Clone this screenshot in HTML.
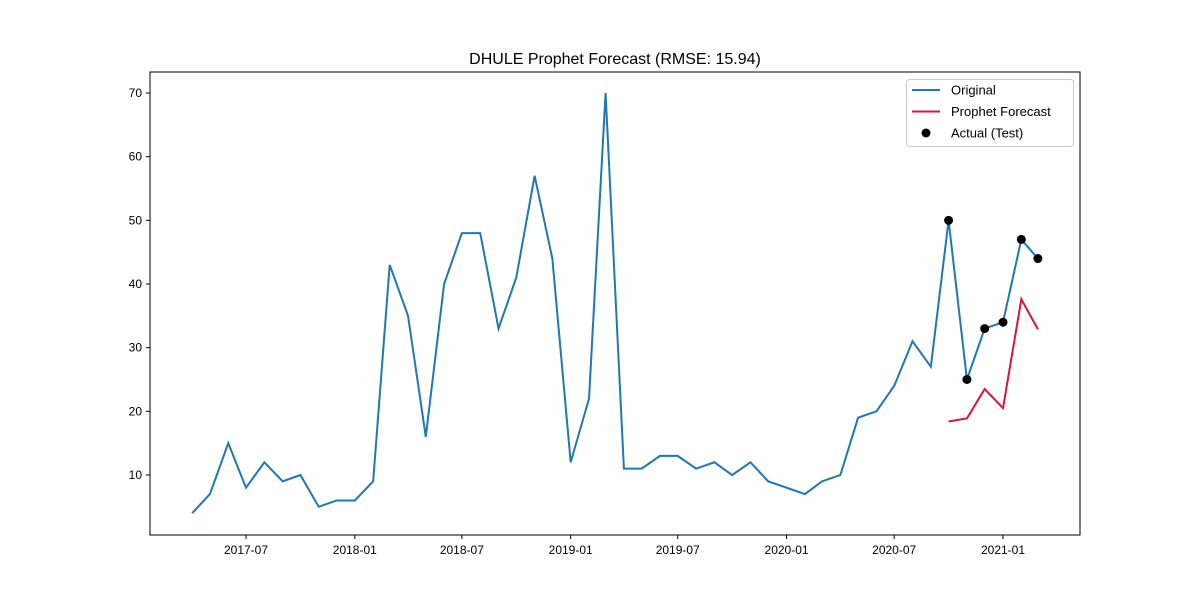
<!DOCTYPE html>
<html><head><meta charset="utf-8"><style>
body{margin:0;background:#fff;font-family:"Liberation Sans","DejaVu Sans",sans-serif}
</style></head><body>
<svg id="chart" width="1200" height="600" xmlns="http://www.w3.org/2000/svg"></svg>
<script>
const dates = ["2017-04","2017-05","2017-06","2017-07","2017-08","2017-09","2017-10","2017-11","2017-12","2018-01","2018-02","2018-03","2018-04","2018-05","2018-06","2018-07","2018-08","2018-09","2018-10","2018-11","2018-12","2019-01","2019-02","2019-03","2019-04","2019-05","2019-06","2019-07","2019-08","2019-09","2019-10","2019-11","2019-12","2020-01","2020-02","2020-03","2020-04","2020-05","2020-06","2020-07","2020-08","2020-09","2020-10","2020-11","2020-12","2021-01","2021-02","2021-03"];
const original = [4,7,15,8,12,9,10,5,6,6,9,43,35,16,40,48,48,33,41,57,44,12,22,70,11,11,13,13,11,12,10,12,9,8,7,9,10,19,20,24,31,27,50,25,33,34,47,44];
const testDates = ["2020-10","2020-11","2020-12","2021-01","2021-02","2021-03"];
const forecast = [18.4,18.9,23.5,20.5,37.6,32.9];
const actual = [50,25,33,34,47,44];
const xTicks = ["2017-07","2018-01","2018-07","2019-01","2019-07","2020-01","2020-07","2021-01"];
const yTicks = [10,20,30,40,50,60,70];

const svg = document.getElementById('chart');
const NS = "http://www.w3.org/2000/svg";
const L=150,R=1080,T=72,B=535;
const day = s => Date.UTC(+s.slice(0,4), +s.slice(5,7)-1, 1)/86400000;
const d0 = day("2017-07"), d1 = day("2021-01");
const x = s => 246 + (day(s)-d0)*(1003-246)/(d1-d0);
const y = v => 475 - (v-10)*(475-93)/60;
function el(tag, attrs, parent){const e=document.createElementNS(NS,tag);for(const k in attrs)e.setAttribute(k,attrs[k]);(parent||svg).appendChild(e);return e;}

let t=el('text',{x:615,y:64,'text-anchor':'middle','font-size':16,fill:'#000'});


t.textContent="DHULE Prophet Forecast (RMSE: 15.94)";

yTicks.forEach(v=>{
  const ln=el('line',{x1:L-4,x2:L,y1:y(v),y2:y(v),stroke:'#000'});
  
  
  const tx=el('text',{x:L-8,y:y(v)+4,'text-anchor':'end','font-size':12});
  
  
  tx.textContent=v;
});
xTicks.forEach(s=>{
  const ln=el('line',{x1:x(s),x2:x(s),y1:B,y2:B+4,stroke:'#000'});
  
  
  const tx=el('text',{x:x(s),y:B+19,'text-anchor':'middle','font-size':12});
  
  
  tx.textContent=s;
});

const p1=el('polyline',{points:dates.map((d,i)=>x(d)+','+y(original[i])).join(' '),fill:'none',stroke:'#1f77b4','stroke-width':2});


const p2=el('polyline',{points:testDates.map((d,i)=>x(d)+','+y(forecast[i])).join(' '),fill:'none',stroke:'#dc143c','stroke-width':2});


testDates.forEach((d,i)=>{
  const c=el('circle',{cx:x(d),cy:y(actual[i]),r:4.5,fill:'#000'});
  
  
});

const frame=el('rect',{x:L,y:T,width:R-L,height:B-T,fill:'none',stroke:'#000','stroke-width':1});



const lg=el('g',{});


el('rect',{x:906.5,y:79.5,width:167,height:67,rx:3,fill:'#fff',stroke:'#ccc'},lg);
const items=[["Original","line","#1f77b4"],["Prophet Forecast","line","#dc143c"],["Actual (Test)","dot","#000"]];
items.forEach((it,i)=>{
  const yy=90+i*21.5;
  const g=el('g',{},lg);
  
  
  if(it[1]==="line") el('line',{x1:912,x2:940,y1:yy,y2:yy,stroke:it[2],'stroke-width':2},g);
  else el('circle',{cx:926,cy:yy,r:4.5,fill:it[2]},g);
  const tx=el('text',{x:951,y:yy+4.5,'font-size':13},g);
  tx.textContent=it[0];
});
</script>
</body></html>
